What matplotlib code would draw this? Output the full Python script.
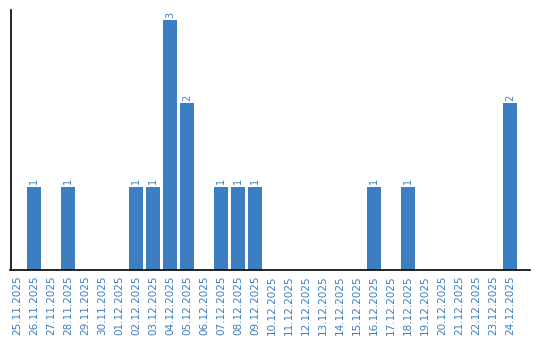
import matplotlib
matplotlib.use("Agg")
import matplotlib.pyplot as plt

dates = ["25.11.2025", "26.11.2025", "27.11.2025", "28.11.2025", "29.11.2025",
         "30.11.2025", "01.12.2025", "02.12.2025", "03.12.2025", "04.12.2025",
         "05.12.2025", "06.12.2025", "07.12.2025", "08.12.2025", "09.12.2025",
         "10.12.2025", "11.12.2025", "12.12.2025", "13.12.2025", "14.12.2025",
         "15.12.2025", "16.12.2025", "17.12.2025", "18.12.2025", "19.12.2025",
         "20.12.2025", "21.12.2025", "22.12.2025", "23.12.2025", "24.12.2025"]
counts = [0, 1, 0, 1, 0, 0, 0, 1, 1, 3, 2, 0, 1, 1, 1,
          0, 0, 0, 0, 0, 0, 1, 0, 1, 0, 0, 0, 0, 0, 2]

blue = "#3b7ec2"

fig = plt.figure(figsize=(5.4, 3.4), dpi=100)
ax = fig.add_axes([10.5 / 540, 70 / 340, 519.5 / 540, 260 / 340])

x = list(range(len(dates)))
ax.bar(x, counts, width=0.82, color=blue)

for i, c in enumerate(counts):
    if c > 0:
        ax.text(i, c + 0.03, str(c), rotation=90, ha="center", va="bottom",
                fontsize=7, color=blue)

ax.set_xlim(-0.38, 30.18)
ax.set_ylim(0, 3.12)
ax.set_xticks(x)
ax.set_xticklabels(dates, rotation=90, fontsize=7.5, color=blue)
ax.tick_params(axis="x", length=0, pad=4)
ax.set_yticks([])
for s in ["top", "right"]:
    ax.spines[s].set_visible(False)
ax.spines["left"].set_linewidth(1.2)
ax.spines["bottom"].set_linewidth(1.2)

fig.savefig("out.png", dpi=100)
